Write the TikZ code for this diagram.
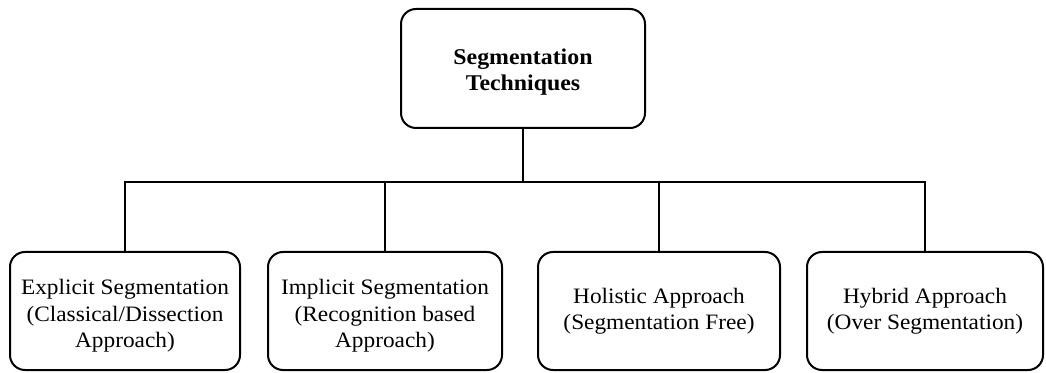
\documentclass[tikz,border=0pt]{standalone}
\usepackage{fontspec}
\setmainfont[FakeStretch=1.06]{Liberation Serif}
\begin{document}
\begin{tikzpicture}[x=1pt,y=1pt,
  box/.style={draw,line width=2pt,rounded corners=15pt,inner sep=0pt,minimum height=118pt},
  txt/.style={align=center,inner sep=0pt,font=\fontsize{22}{26.5}\selectfont},
  conn/.style={line width=1.2pt}]
\useasboundingbox (0,0) rectangle (1046,372);
\node[box,minimum width=244pt,minimum height=119pt] (top) at (523,303.5) {};
\node[txt,font=\fontsize{22.5}{26}\selectfont\bfseries] (toptxt) at ([yshift=-4pt]top.center) {Segmentation\\Techniques};
\node[box,minimum width=230pt] (b1) at (125,61) {};
\node[box,minimum width=234pt] (b2) at (385,61) {};
\node[box,minimum width=242pt] (b3) at (659,61) {};
\node[box,minimum width=236pt] (b4) at (925,61) {};
\node[txt] (t1) at ([yshift=-5pt]b1.center) {Explicit Segmentation\\(Classical/Dissection\\Approach)};
\node[txt] (t2) at ([yshift=-5pt]b2.center) {Implicit Segmentation\\(Recognition based\\Approach)};
\node[txt] (t3) at ([yshift=0pt]b3.center) {Holistic Approach\\(Segmentation Free)};
\node[txt] (t4) at ([yshift=0pt]b4.center) {Hybrid Approach\\(Over Segmentation)};
\coordinate (bus) at (523,190);
\draw[conn] (top.south) -- (bus);
\draw[conn] (b1.north) |- (bus);
\draw[conn] (b2.north) |- (bus);
\draw[conn] (b3.north) |- (bus);
\draw[conn] (b4.north) |- (bus);
\end{tikzpicture}
\end{document}
